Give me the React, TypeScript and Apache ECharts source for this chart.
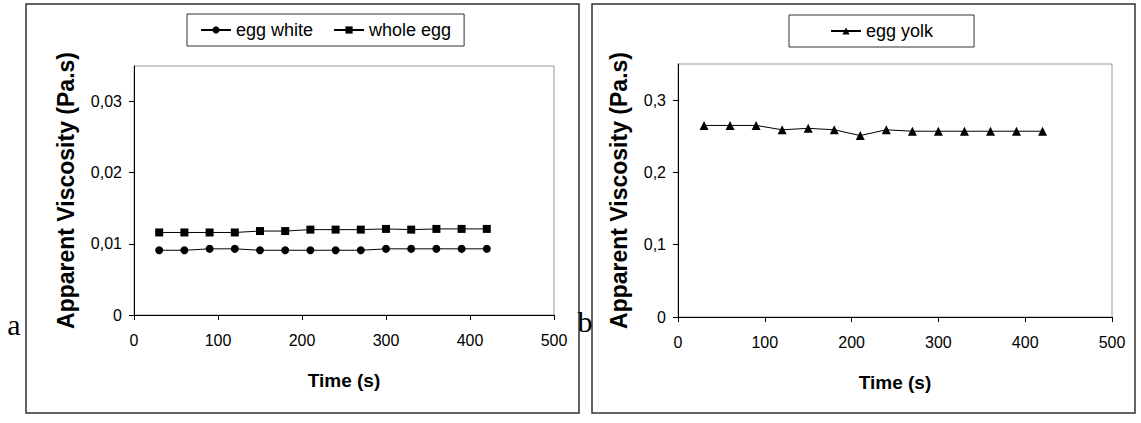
import React, { useEffect, useRef } from "react";
import * as echarts from "echarts";

const times = [30, 60, 90, 120, 150, 180, 210, 240, 270, 300, 330, 360, 390, 420];
const eggWhite = [0.0091, 0.0091, 0.0093, 0.0093, 0.0091, 0.0091, 0.0091, 0.0091, 0.0091, 0.0093, 0.0093, 0.0093, 0.0093, 0.0093];
const wholeEgg = [0.0116, 0.0116, 0.0116, 0.0116, 0.0118, 0.0118, 0.012, 0.012, 0.012, 0.0121, 0.012, 0.0121, 0.0121, 0.0121];
const eggYolk = [0.265, 0.265, 0.265, 0.259, 0.261, 0.259, 0.251, 0.259, 0.257, 0.257, 0.257, 0.257, 0.257, 0.257];
const leftYTicks = [0, 0.01, 0.02, 0.03];
const rightYTicks = [0, 0.1, 0.2, 0.3];
const yTitle = "Apparent Viscosity (Pa.s)";
const xTitle = "Time (s)";

const SANS = '"Liberation Sans", Arial, sans-serif';

const fmt = (digits: number) => (v: number) => (v === 0 ? "0" : v.toFixed(digits).replace(".", ","));

const xAxisCfg = (gridIndex: number) => ({
  type: "value",
  gridIndex,
  min: 0,
  max: 500,
  interval: 100,
  name: xTitle,
  nameLocation: "middle",
  nameGap: 56,
  nameTextStyle: { fontFamily: SANS, fontWeight: "bold", fontSize: 19, color: "#000" },
  axisLine: { show: true, onZero: false, lineStyle: { color: "#000", width: 1 } },
  axisTick: { show: true, length: 5, inside: false, lineStyle: { color: "#000" } },
  axisLabel: { fontFamily: SANS, fontSize: 16, color: "#000", margin: 17 },
  splitLine: { show: false },
});

const yAxisCfg = (gridIndex: number, max: number, ticks: number[], digits: number, gap: number) => ({
  type: "value",
  gridIndex,
  min: 0,
  max,
  name: yTitle,
  nameLocation: "middle",
  nameGap: gap,
  nameTextStyle: { fontFamily: SANS, fontWeight: "bold", fontSize: 23, color: "#000" },
  axisLine: { show: true, lineStyle: { color: "#000", width: 1 } },
  axisTick: { show: true, length: 5, inside: false, customValues: ticks, lineStyle: { color: "#000" } },
  axisLabel: { fontFamily: SANS, fontSize: 16, color: "#000", margin: 12, customValues: ticks, formatter: fmt(digits) },
  splitLine: { show: false },
});

const lineSeries = (name: string, values: number[], symbol: string, size: number, idx: number) => ({
  type: "line",
  name,
  xAxisIndex: idx,
  yAxisIndex: idx,
  data: times.map((t, i) => [t, values[i]]),
  symbol,
  symbolSize: size,
  itemStyle: { color: "#000" },
  lineStyle: { color: "#000", width: 1 },
});

const legendCfg = (names: string[], left: number, top: number, padH: number) => ({
  data: names,
  left,
  top,
  orient: "horizontal",
  itemWidth: 30,
  itemHeight: 9,
  itemGap: 20,
  padding: [7, padH],
  borderColor: "#333",
  borderWidth: 1,
  textStyle: { fontFamily: SANS, fontSize: 18, color: "#000" },
});

export default function App() {
  const ref = useRef<HTMLDivElement>(null);
  useEffect(() => {
    if (!ref.current) return;
    const chart = echarts.init(ref.current, undefined, { renderer: "svg" });
    chart.setOption({
      animation: false,
      backgroundColor: "#fff",
      grid: [
        { left: 134, right: 587, top: 66, bottom: 108, show: true, borderColor: "#999", borderWidth: 1 },
        { left: 678, right: 29, top: 64, bottom: 106, show: true, borderColor: "#999", borderWidth: 1 },
      ],
      xAxis: [xAxisCfg(0), xAxisCfg(1)],
      yAxis: [yAxisCfg(0, 0.035, leftYTicks, 2, 57), yAxisCfg(1, 0.35, rightYTicks, 1, 48)],
      legend: [legendCfg(["egg white", "whole egg"], 187, 14, 13), legendCfg(["egg yolk"], 789, 15, 41)],
      series: [
        lineSeries("egg white", eggWhite, "circle", 8, 0),
        lineSeries("whole egg", wholeEgg, "rect", 8, 0),
        lineSeries("egg yolk", eggYolk, "triangle", 9, 1),
      ],
      graphic: [
        { type: "rect", shape: { x: 26, y: 4, width: 553, height: 409 }, style: { fill: "none", stroke: "#333", lineWidth: 1.5 }, z: -1 },
        { type: "rect", shape: { x: 592, y: 4, width: 543, height: 409 }, style: { fill: "none", stroke: "#333", lineWidth: 1.5 }, z: -1 },
        { type: "text", x: 14, y: 324, style: { text: "a", font: '30px "Liberation Serif", "Times New Roman", serif', fill: "#000", textAlign: "center", textVerticalAlign: "middle" } },
        { type: "text", x: 585, y: 321, style: { text: "b", font: '30px "Liberation Serif", "Times New Roman", serif', fill: "#000", textAlign: "center", textVerticalAlign: "middle" } },
      ],
    });
    return () => chart.dispose();
  }, []);
  return <div ref={ref} style={{ position: "fixed", left: 0, top: 0, width: 1141, height: 423 }} />;
}
